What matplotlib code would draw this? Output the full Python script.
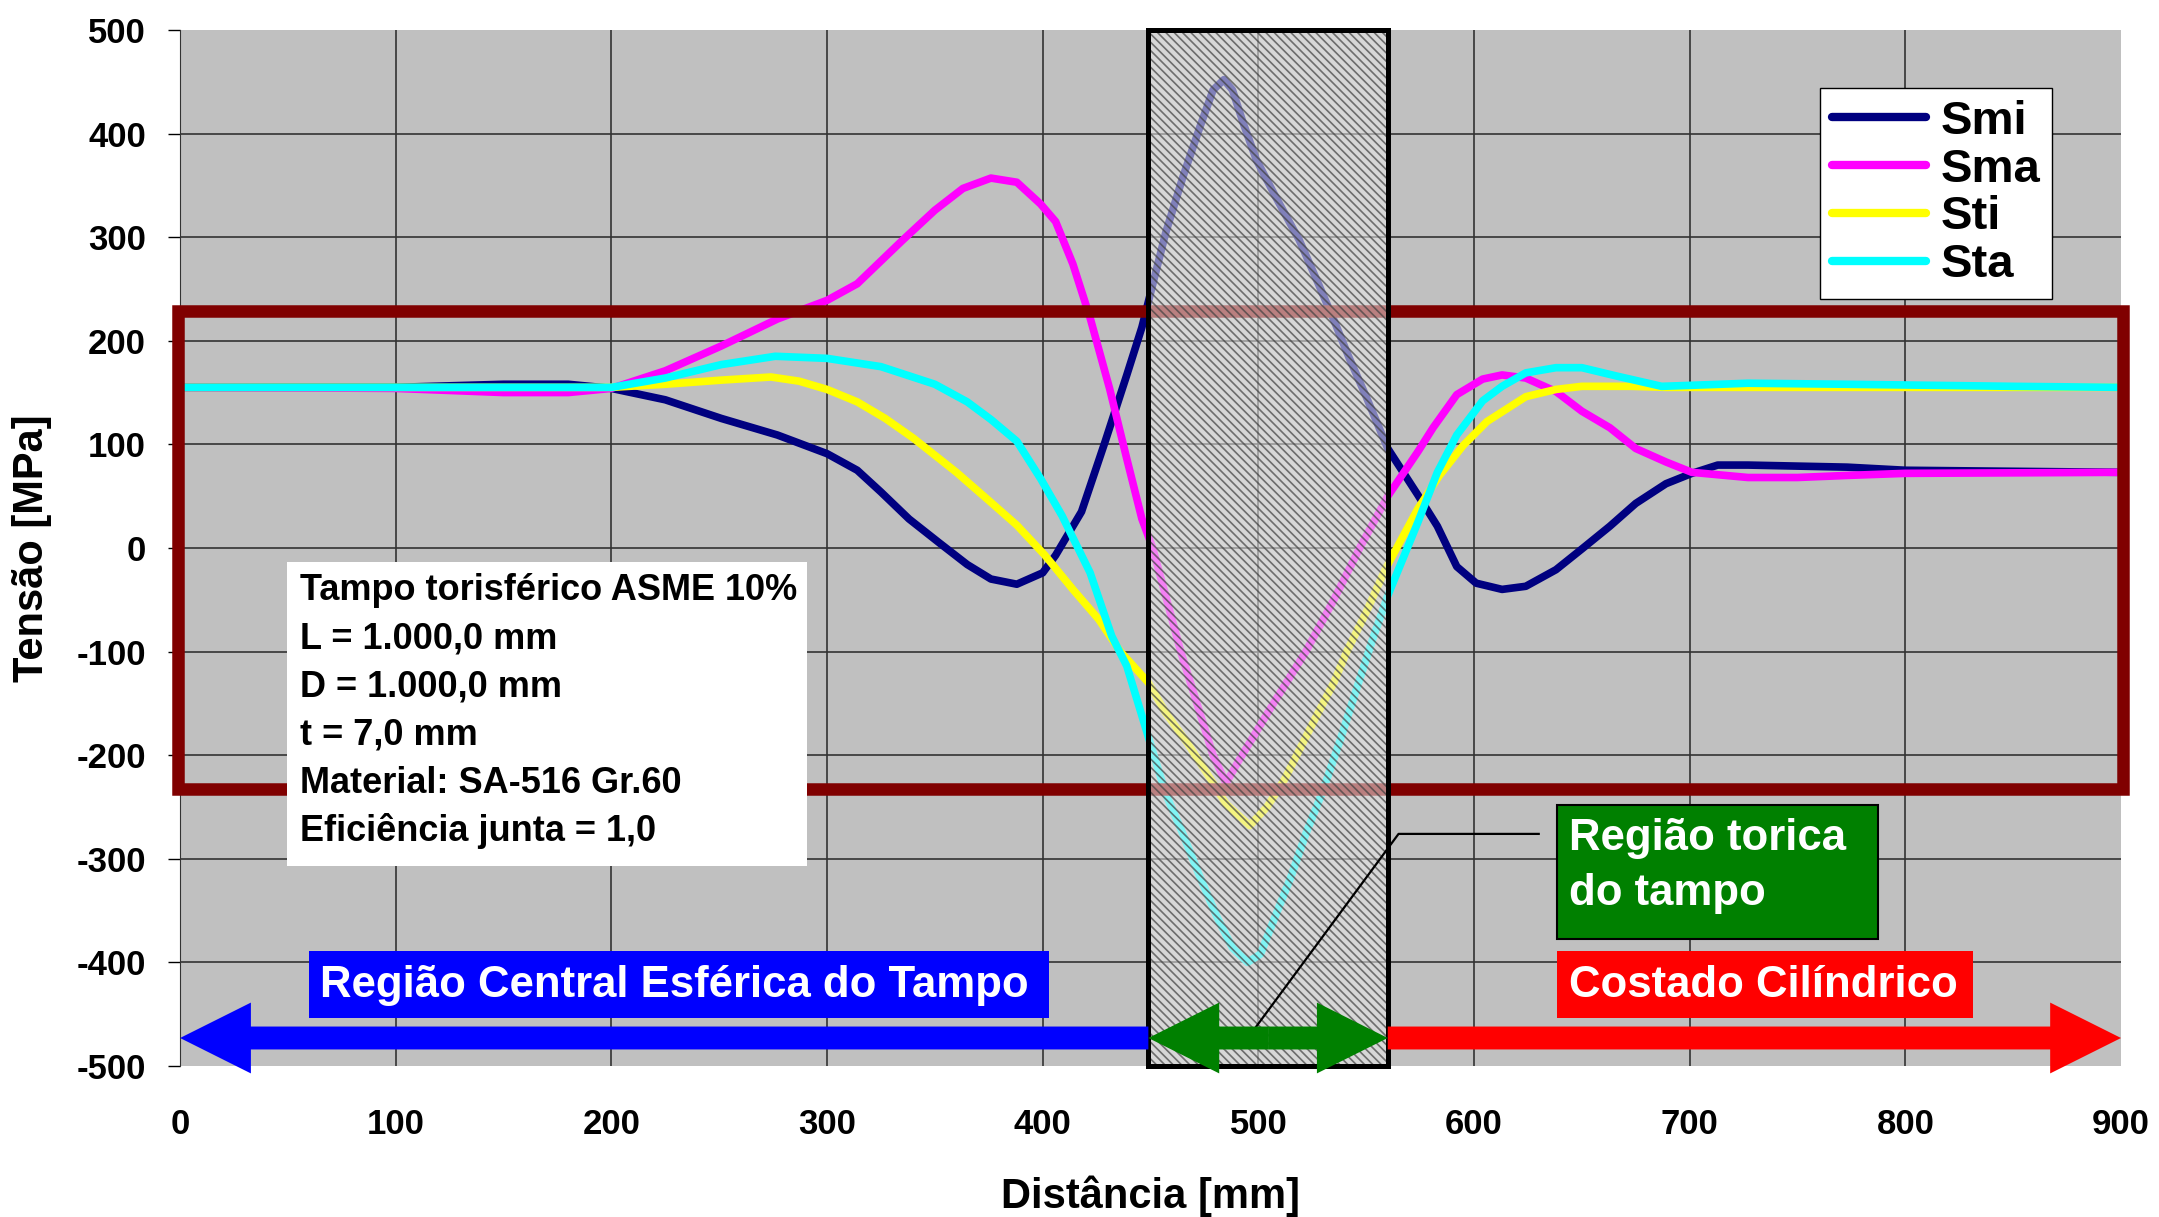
"""
Tensões ao longo do tampo torisférico ASME 10% e do costado cilíndrico.
Smi / Sma : tensões meridionais (interna / externa)
Sti / Sta : tensões tangenciais (interna / externa)
"""

import matplotlib
matplotlib.use("Agg")
import matplotlib.pyplot as plt
from matplotlib.patches import Rectangle, FancyArrowPatch

plt.rcParams["font.family"] = ["Liberation Sans", "DejaVu Sans"]
plt.rcParams["font.weight"] = "bold"
plt.rcParams["axes.unicode_minus"] = False
plt.rcParams["hatch.linewidth"] = 1.2

# --- valores (distância em mm, tensão em MPa) ---
x_smi = [0, 50, 100, 150, 180, 200, 225, 251, 277, 300, 314, 325, 338, 352, 365,
         376, 388, 400, 406, 418, 429, 439, 446, 450, 457, 465, 473, 479, 484, 488,
         493, 499, 508, 519, 527, 535, 542, 550, 560, 574, 583, 592, 601, 613, 624,
         638, 650, 663, 675, 689, 701, 713, 727, 750, 773, 800, 850, 900]
smi = [155, 155, 155, 158, 158, 154, 143, 125, 109, 91, 75, 54, 28, 5, -16,
       -30, -35, -24, -7, 35, 103, 167, 213, 246, 304, 358, 407, 442, 452, 442,
       410, 375, 339, 297, 259, 220, 184, 146, 96, 51, 21, -18, -34, -40, -37,
       -21, -1, 21, 43, 62, 72, 80, 80, 79, 78, 75, 74, 73]

x_sma = [0, 100, 150, 180, 200, 225, 251, 277, 300, 314, 335, 350, 363, 376, 388,
         399, 406, 414, 422, 431, 439, 446, 451, 464, 479, 485, 491, 507, 522, 535,
         547, 560, 574, 581, 592, 604, 613, 624, 638, 650, 663, 675, 689, 701, 727,
         750, 773, 800, 900]
sma = [155, 154, 150, 150, 154, 171, 195, 221, 239, 255, 297, 326, 347, 357, 353,
       332, 315, 274, 222, 154, 86, 28, 0, -100, -200, -227, -205, -150, -100, -50,
       0, 50, 93, 116, 148, 163, 167, 164, 151, 132, 116, 96, 83, 73, 68,
       68, 70, 72, 73]

x_sti = [0, 100, 200, 225, 251, 274, 287, 300, 314, 327, 340, 360, 376, 388, 401,
         414, 426, 436, 449, 457, 467, 476, 485, 496, 504, 512, 519, 527, 535, 541,
         550, 559, 574, 584, 595, 606, 624, 638, 650, 673, 689, 750, 800, 900]
sti = [155, 155, 155, 158, 162, 165, 161, 153, 141, 125, 106, 73, 44, 22, -7,
       -40, -69, -100, -130, -159, -188, -217, -247, -268, -250, -224, -195, -162, -130, -100,
       -62, -20, 38, 70, 99, 122, 146, 153, 156, 156, 155, 155, 155, 155]

x_sta = [0, 100, 200, 225, 251, 276, 300, 325, 350, 365, 376, 388, 399, 409, 422,
         432, 439, 446, 457, 465, 473, 481, 488, 495, 501, 507, 515, 522, 530, 538,
         546, 553, 560, 574, 583, 592, 604, 613, 624, 638, 650, 666, 687, 701, 727,
         773, 850, 900]
sta = [155, 155, 155, 164, 177, 185, 183, 175, 158, 141, 124, 103, 67, 31, -24,
       -85, -114, -162, -237, -276, -318, -357, -386, -400, -392, -360, -318, -276, -234, -185,
       -133, -88, -46, 25, 73, 109, 142, 156, 169, 174, 174, 166, 156, 157, 159,
       158, 156, 155]

x_ticks = list(range(0, 901, 100))
y_ticks = list(range(-500, 501, 100))

info_linhas = ["Tampo torisférico ASME 10%", "L = 1.000,0 mm", "D = 1.000,0 mm",
               "t = 7,0 mm", "Material: SA-516 Gr.60", "Eficiência junta = 1,0"]

# regiões do tampo (mm) e faixa de tensão destacada (MPa)
TORO_INI, TORO_FIM = 449, 560
FAIXA_MIN, FAIXA_MAX = -233, 229
Y_SETA = -473
FS_REGIAO = 31.5


def seta(ax, x0, x1, cor):
    # seta de uma ponta, medidas em pontos
    ax.add_patch(FancyArrowPatch(
        (x0, Y_SETA), (x1, Y_SETA),
        arrowstyle="simple,head_length=51,head_width=51,tail_width=16.5",
        mutation_scale=1, color=cor, lw=0, shrinkA=0, shrinkB=0,
        zorder=5, clip_on=False))


def main() -> None:
    fig = plt.figure(figsize=(21.59, 12.17), dpi=100)
    ax = fig.add_axes([0.0834, 0.1241, 0.8990, 0.8513])
    ax.set_facecolor("#C0C0C0")

    series = [("Smi", x_smi, smi, "#000080"),
              ("Sma", x_sma, sma, "#FF00FF"),
              ("Sti", x_sti, sti, "#FFFF00"),
              ("Sta", x_sta, sta, "#00FFFF")]
    for nome, xs, ys, cor in series:
        ax.plot(xs, ys, color=cor, lw=5.5, label=nome, zorder=2,
                solid_joinstyle="round", solid_capstyle="round")

    ax.set_xlim(0, 900)
    ax.set_ylim(-500, 500)
    ax.set_xticks(x_ticks)
    ax.set_yticks(y_ticks)
    ax.tick_params(axis="x", length=0, pad=30, labelsize=25)
    ax.tick_params(axis="y", length=8.6, width=1, pad=16, labelsize=25)
    ax.grid(True, color="#333333", lw=1.2)
    ax.set_axisbelow(True)
    for i in (0, len(y_ticks) - 1):
        ax.yaxis.get_major_ticks()[i].gridline.set_visible(False)
    ax.xaxis.get_major_ticks()[-1].gridline.set_visible(False)
    for s in ("top", "right", "bottom"):
        ax.spines[s].set_visible(False)
    ax.spines["left"].set_color("#333333")

    ax.set_xlabel("Distância [mm]", fontsize=30, fontweight="bold")
    ax.set_ylabel("Tensão [MPa]", fontsize=30, fontweight="bold")
    ax.xaxis.set_label_coords(0.5, -0.106)
    ax.yaxis.set_label_coords(-0.066, 0.5)

    # faixa de tensão (retângulo vinho)
    ax.add_patch(Rectangle((-1, FAIXA_MIN), 902, FAIXA_MAX - FAIXA_MIN,
                           fill=False, ec="#800000", lw=9, zorder=3, clip_on=False))

    # região tórica hachurada
    ax.add_patch(Rectangle((TORO_INI, -500), TORO_FIM - TORO_INI, 1000,
                           fc=(0.92, 0.92, 0.92, 0.55), ec=(0.25, 0.25, 0.25, 0.7),
                           hatch="\\" * 4, lw=0, zorder=4))
    ax.add_patch(Rectangle((TORO_INI, -500), TORO_FIM - TORO_INI, 1000,
                           fill=False, ec="black", lw=3.6, zorder=4.2, clip_on=False))

    # caixa de dados do tampo
    ax.add_patch(Rectangle((49.8, -306.7), 240.7, 293.5, fc="white", ec="none", zorder=6))
    for i, linha in enumerate(info_linhas):
        ax.text(55.6, -50.2 - 46.6 * i, linha, fontsize=26, fontweight="bold",
                va="baseline", ha="left", zorder=7)

    # setas das regiões
    seta(ax, TORO_INI, 0, "#0000FF")
    seta(ax, TORO_FIM, 900, "#FF0000")
    meio = (TORO_INI + TORO_FIM) / 2
    seta(ax, meio, TORO_INI, "#008000")
    seta(ax, meio, TORO_FIM, "#008000")

    # linha de chamada da região tórica
    ax.plot([499, 565, 630], [-462, -276, -276], color="black", lw=1.6,
            zorder=4.5, clip_on=False)

    # rótulos das regiões
    ax.add_patch(Rectangle((59.8, -453.7), 343.1, 64.7, fc="#0000FF", ec="none", zorder=6))
    ax.text(65, -433, "Região Central Esférica do Tampo", color="white",
            fontsize=FS_REGIAO, fontweight="bold", va="baseline", zorder=7)
    ax.add_patch(Rectangle((638.4, -453.7), 192.8, 64.7, fc="#FF0000", ec="none", zorder=6))
    ax.text(644, -433, "Costado Cilíndrico", color="white",
            fontsize=FS_REGIAO, fontweight="bold", va="baseline", zorder=7)
    ax.add_patch(Rectangle((638.4, -377.4), 149, 129.4, fc="#008000", ec="black",
                           lw=1.5, zorder=6))
    ax.text(644, -292, "Região torica", color="white",
            fontsize=FS_REGIAO, fontweight="bold", va="baseline", zorder=7)
    ax.text(644, -344.7, "do tampo", color="white",
            fontsize=FS_REGIAO, fontweight="bold", va="baseline", zorder=7)

    leg = ax.legend(loc="upper right", bbox_to_anchor=(0.9645, 0.944),
                    prop={"size": 34, "weight": "bold"}, frameon=True,
                    fancybox=False, framealpha=1, edgecolor="black",
                    handlelength=2.0, handletextpad=0.3, labelspacing=0.08,
                    borderpad=0.25, borderaxespad=0)
    leg.get_frame().set_linewidth(1.0)
    leg.set_zorder(8)
    for ln in leg.get_lines():
        ln.set_linewidth(6)

    fig.savefig("out.png", dpi=100)
    plt.close(fig)


if __name__ == "__main__":
    main()
